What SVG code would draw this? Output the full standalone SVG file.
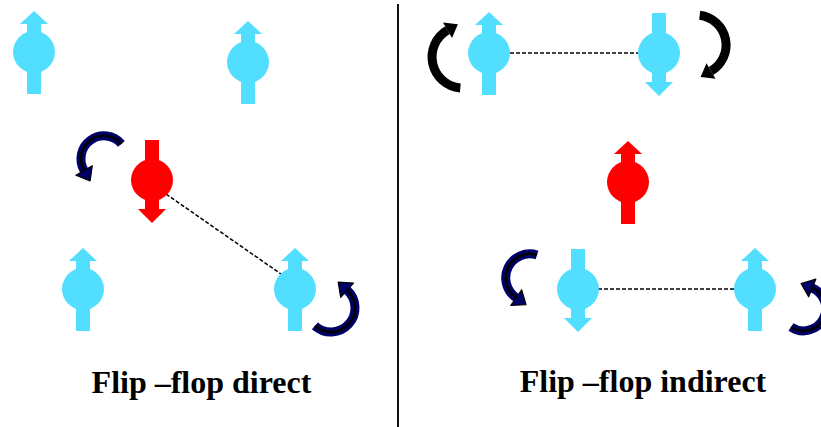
<svg xmlns="http://www.w3.org/2000/svg" xmlns:xlink="http://www.w3.org/1999/xlink" width="821" height="427" viewBox="0 0 821 427">
<style>
.cyan{fill:#52dfff}
.red{fill:#ff0000}
.dash{stroke:#000;stroke-width:1.5;stroke-dasharray:4 2;fill:none}
.navy{fill:none;stroke:#000066;stroke-width:9}
.navycore{fill:none;stroke:#000;stroke-width:2.5}
.navyhead{fill:#000066;stroke:#000;stroke-width:1.2;stroke-linejoin:round}
.blk{fill:none;stroke:#000;stroke-width:9}
.blkhead{fill:#000}
.label{font-family:"Liberation Serif","Times New Roman",serif;font-weight:bold;font-size:32px;fill:#000;text-anchor:middle}
</style>
<defs>
<g id="up"><circle r="21"/><rect x="-7" y="-28" width="14" height="70"/><polygon points="-14,-28 0,-41 14,-28"/></g>
<g id="down"><circle r="21"/><rect x="-7" y="-40" width="14" height="69"/><polygon points="-14,29 0,43 14,29"/></g>
</defs>
<rect width="821" height="427" fill="#fff"/>
<line x1="398" y1="4" x2="398" y2="427" stroke="#111" stroke-width="2"/>
<g id="connectors">
<line class="dash" x1="166" y1="194" x2="281" y2="274"/>
<line class="dash" x1="510" y1="53" x2="640" y2="53"/>
<line class="dash" x1="598" y1="289" x2="735" y2="289"/>
</g>
<g id="rotation-arrows">
<g id="rot1">
<path class="navy" d="M121.4,143.9 A23,23 0 0 0 84.1,170.5"/>
<path class="navycore" d="M121.4,143.9 A23,23 0 0 0 84.1,170.5"/>
<polygon class="navyhead" points="92.3,165.75 75.9,175.25 90.1,180.9"/>
</g>
<g id="rot2">
<path class="navy" d="M314.9,325.8 A24,24 0 0 0 347.1,290.2"/>
<path class="navycore" d="M314.9,325.8 A24,24 0 0 0 347.1,290.2"/>
<polygon class="navyhead" points="353.5,283.1 340.7,297.3 338.2,282.2"/>
</g>
<g id="rot3">
<path class="blk" d="M460.3,87.9 A31,31 0 0 1 447.5,30.2"/>
<polygon class="blkhead" points="452,38 443,22.4 457.9,24.2"/>
</g>
<g id="rot4">
<path class="blk" d="M699.7,15.2 A30,30 0 0 1 711,71"/>
<polygon class="blkhead" points="715.5,78.8 706.5,63.2 700.6,77"/>
</g>
<g id="rot5">
<path class="navy" d="M537,255 A24,24 0 0 0 516.2,297.7"/>
<path class="navycore" d="M537,255 A24,24 0 0 0 516.2,297.7"/>
<polygon class="navyhead" points="521.7,289.9 510.7,305.5 526,304.6"/>
</g>
<g id="rot6">
<path class="navy" d="M791,327 A22.3,22.3 0 1 0 812.2,288"/>
<path class="navycore" d="M791,327 A22.3,22.3 0 1 0 812.2,288"/>
<polygon class="navyhead" points="815.8,279.2 808.6,296.8 801.1,283.5"/>
</g>
</g>
<g id="spin-l1"><use xlink:href="#up" class="cyan" x="34" y="52"/></g>
<g id="spin-l2"><use xlink:href="#up" class="cyan" x="248" y="62"/></g>
<g id="spin-l3"><use xlink:href="#down" class="red" x="152" y="180"/></g>
<g id="spin-l4"><use xlink:href="#up" class="cyan" x="83" y="289"/></g>
<g id="spin-l5"><use xlink:href="#up" class="cyan" x="295" y="289"/></g>
<g id="spin-r1"><use xlink:href="#up" class="cyan" x="489" y="53"/></g>
<g id="spin-r2"><use xlink:href="#down" class="cyan" x="659" y="53"/></g>
<g id="spin-r3"><use xlink:href="#up" class="red" x="628" y="182"/></g>
<g id="spin-r4"><use xlink:href="#down" class="cyan" x="578" y="289"/></g>
<g id="spin-r5"><use xlink:href="#up" class="cyan" x="755" y="289"/></g>
<text class="label" x="201.5" y="393">Flip –flop direct</text>
<text class="label" x="643" y="392">Flip –flop indirect</text>
</svg>
